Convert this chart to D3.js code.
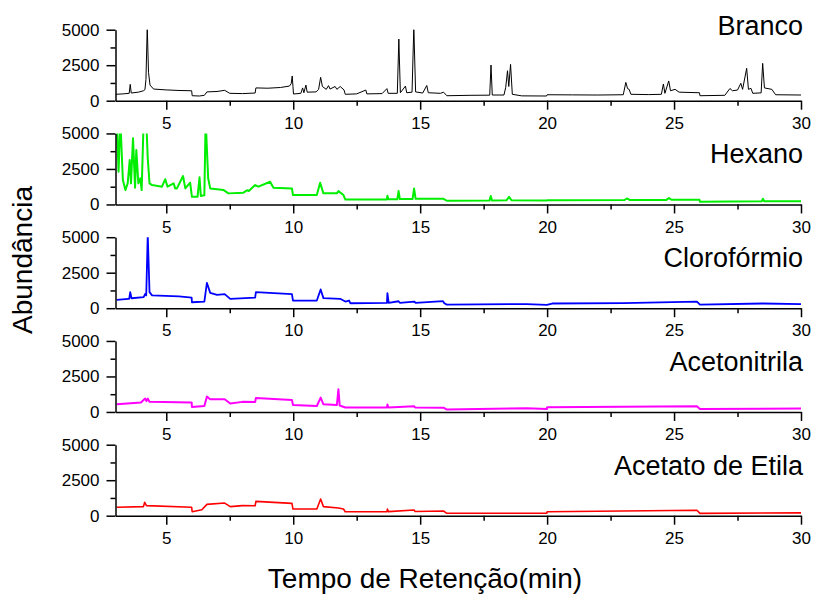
<!DOCTYPE html>
<html>
<head>
<meta charset="utf-8">
<script src="https://cdn.jsdelivr.net/npm/d3@7"></script>
<style>
  body { margin: 0; background: #fff; }
  svg { display: block; }
  text { font-family: "Liberation Sans", Arial, sans-serif; fill: #000; }
</style>
</head>
<body>
<svg width="814" height="594"></svg>
<script>
// series names, top to bottom
const names = ["Branco", "Hexano", "Clorofórmio", "Acetonitrila", "Acetato de Etila"];

// [tempo (min), abundância]
const branco = [[3.0,450],[3.3,480],[3.54,520],[3.58,1150],[3.62,540],[3.9,600],[4.1,700],[4.16,780],[4.2,1500],[4.25,5200],
  [4.3,2000],[4.36,1100],[4.5,820],[5.0,760],[5.5,720],[6.0,700],[6.02,350],[6.3,330],[6.5,380],[6.6,620],[7.0,650],[7.3,730],
  [7.5,520],[8.0,500],[8.5,540],[8.53,900],[9.0,880],[9.5,930],[9.85,1030],[9.92,1200],[9.96,1740],[9.99,1000],[10.01,470],
  [10.3,520],[10.37,900],[10.42,560],[10.5,1100],[10.55,600],[10.9,620],[11.0,800],[11.08,1645],[11.15,1000],[11.3,800],
  [11.39,1060],[11.45,820],[11.65,1000],[11.72,800],[11.85,1000],[12.0,760],[12.05,450],[12.5,480],[12.86,750],[12.9,480],
  [13.5,500],[13.69,850],[13.74,520],[14.1,520],[14.16,4340],[14.22,560],[14.42,1030],[14.47,560],[14.68,600],[14.75,5200],
  [14.82,620],[15.1,540],[15.26,1070],[15.32,560],[15.8,520],[15.92,600],[16.05,350],[17.0,380],[17.74,390],[17.79,2510],
  [17.84,400],[18.3,400],[18.37,940],[18.44,2110],[18.49,1000],[18.56,2560],[18.63,450],[19.0,340],[19.98,330],[20.0,420],
  [21.0,410],[22.0,400],[23.0,420],[23.1,1290],[23.17,850],[23.23,800],[23.3,450],[24.0,430],[24.5,450],[24.58,1175],
  [24.64,520],[24.79,1390],[24.86,700],[25.04,800],[25.2,600],[26.0,560],[26.02,350],[27.0,380],[27.2,860],[27.3,700],
  [27.5,750],[27.63,1225],[27.7,800],[27.86,2280],[27.93,800],[28.03,870],[28.1,520],[28.43,550],[28.49,2630],[28.56,900],
  [28.85,800],[29.0,420],[30.0,400]];

const hexano = [[3.05,6000],[3.12,2310],[3.19,6000],[3.29,1720],[3.39,1010],[3.48,1485],[3.56,3130],[3.61,1485],[3.69,4670],
  [3.77,1180],[3.82,3840],[3.9,1485],[3.98,1840],[4.03,1010],[4.11,6000],[4.21,6000],[4.27,3250],[4.34,1485],[4.44,1365],
  [4.83,1250],[4.96,1780],[5.05,1250],[5.29,1485],[5.35,1130],[5.42,1130],[5.66,2000],[5.75,1130],[5.94,1530],[6.01,540],
  [6.23,540],[6.31,1910],[6.36,600],[6.5,650],[6.55,6000],[6.65,1840],[6.73,1130],[7.26,1010],[7.45,780],[8.04,830],
  [8.18,1000],[8.25,950],[8.5,1365],[8.63,1250],[9.09,1600],[9.22,1180],[9.95,1130],[9.99,660],[10.93,660],[11.06,1530],
  [11.19,780],[11.72,780],[11.78,940],[11.98,660],[12.05,350],[13.69,350],[13.71,620],[13.75,360],[14.1,360],[14.15,940],
  [14.2,380],[14.7,380],[14.76,1130],[14.82,400],[15.92,400],[16.05,260],[17.73,270],[17.78,590],[17.83,280],[18.4,290],
  [18.5,530],[18.6,290],[19.98,270],[20.0,300],[23.05,310],[23.14,420],[23.25,320],[24.7,320],[24.8,450],[24.9,330],
  [26.0,330],[26.02,190],[28.45,220],[28.5,400],[28.55,230],[30.0,230]];

const cloroformio = [[3.05,590],[3.5,660],[3.54,660],[3.58,1130],[3.63,700],[4.11,780],[4.17,1010],[4.21,900],[4.27,5200],
  [4.34,1130],[4.44,900],[5.5,830],[6.0,740],[6.01,420],[6.5,470],[6.6,1790],[6.73,1080],[7.0,940],[7.3,990],[7.52,660],
  [8.5,740],[8.53,1130],[9.95,990],[9.99,540],[10.93,540],[11.08,1320],[11.19,710],[11.85,660],[12.05,470],[12.2,540],
  [12.25,350],[13.69,370],[13.71,1060],[13.76,380],[14.15,490],[14.2,380],[14.76,470],[14.82,380],[15.9,500],[15.95,350],
  [16.05,250],[19.2,290],[19.99,240],[20.2,330],[23.0,360],[25.9,470],[26.02,250],[28.5,330],[30.0,280]];

const acetonitrila = [[3.05,540],[4.0,660],[4.17,940],[4.22,760],[4.27,940],[4.34,710],[6.0,660],[6.01,350],[6.5,420],
  [6.6,1080],[6.73,900],[7.3,900],[7.52,590],[8.0,710],[8.5,700],[8.53,990],[9.95,850],[9.99,490],[10.93,420],[11.08,1010],
  [11.19,540],[11.72,490],[11.78,1600],[11.83,450],[12.05,310],[13.69,310],[13.71,520],[13.75,320],[14.76,400],[14.8,320],
  [15.92,300],[16.05,170],[19.2,260],[19.99,200],[20.0,330],[25.9,400],[26.02,210],[30.0,240]];

const acetato = [[3.05,590],[4.1,640],[4.15,940],[4.22,710],[6.0,590],[6.02,280],[6.4,420],[6.6,800],[7.3,890],[7.52,640],
  [8.0,710],[8.5,700],[8.53,1010],[9.95,870],[9.99,470],[10.93,470],[11.08,1170],[11.19,640],[11.78,540],[11.98,470],
  [12.05,280],[13.69,280],[13.71,470],[13.75,290],[14.76,400],[14.8,300],[15.92,330],[16.05,170],[19.99,180],[20.0,280],
  [25.9,380],[26.02,165],[30.0,200]];

const series = [branco, hexano, cloroformio, acetonitrila, acetato];

const xDomain = [3, 30];
const xMajor = [5, 10, 15, 20, 25, 30];
const xMinor = [7.5, 12.5, 17.5, 22.5, 27.5];
const yDomain = [0, 5000];
const yMajor = [0, 2500, 5000];
const yMinor = [1250, 3750];

const colors = ["#000000", "#00ee00", "#0000ff", "#ff00ff", "#ff0000"];
const widths = [1, 2, 1.8, 2, 1.6];

const left = 115.5, right = 801, top0 = 29.7, step = 103.75, panelH = 71;

const svg = d3.select("svg");
const x = d3.scaleLinear().domain(xDomain).range([left, right]);

series.forEach(function(data, i) {
  const top = top0 + i * step;
  const y = d3.scaleLinear().domain(yDomain).range([top + panelH, top]);
  const g = svg.append("g").attr("class", "panel");

  g.append("clipPath").attr("id", "clip" + i)
    .append("rect").attr("x", left).attr("y", top).attr("width", right - left).attr("height", panelH);

  const line = d3.line().x(d => x(d[0])).y(d => y(d[1]));
  g.append("path").datum(data)
    .attr("clip-path", `url(#clip${i})`)
    .attr("fill", "none")
    .attr("stroke", colors[i])
    .attr("stroke-width", widths[i])
    .attr("stroke-linejoin", "round")
    .attr("d", line);

  // minor ticks
  g.append("g").attr("transform", `translate(${[0, top + panelH]})`)
    .call(d3.axisBottom(x).tickValues(xMinor).tickSize(5).tickFormat(""))
    .call(a => a.select(".domain").remove());
  g.append("g").attr("transform", `translate(${[left, 0]})`)
    .call(d3.axisLeft(y).tickValues(yMinor).tickSize(5).tickFormat(""))
    .call(a => a.select(".domain").remove());

  const xa = g.append("g").attr("class", "x-axis")
    .attr("transform", `translate(${[0, top + panelH]})`)
    .call(d3.axisBottom(x).tickValues(xMajor).tickSize(9).tickSizeOuter(0).tickPadding(7).tickFormat(d3.format("d")));
  const ya = g.append("g").attr("class", "y-axis")
    .attr("transform", `translate(${[left, 0]})`)
    .call(d3.axisLeft(y).tickValues(yMajor).tickSize(9).tickSizeOuter(0).tickPadding(7).tickFormat(d3.format("d")));

  [xa, ya].forEach(a => {
    a.attr("font-family", null).attr("font-size", 17);
    a.selectAll("line, path").attr("stroke", "#000").attr("stroke-width", 1.5);
  });
  g.selectAll("line").attr("stroke-width", 1.5);

  g.append("text")
    .attr("x", 803)
    .attr("y", top + (i === 0 ? 5 : 30))
    .attr("text-anchor", "end")
    .attr("font-size", 27)
    .text(names[i]);
});

svg.append("text")
  .attr("transform", "translate(31.5,260) rotate(-90)")
  .attr("text-anchor", "middle")
  .attr("font-size", 28)
  .text("Abundância");

svg.append("text")
  .attr("x", 425).attr("y", 588)
  .attr("text-anchor", "middle")
  .attr("font-size", 28)
  .text("Tempo de Retenção(min)");
</script>
</body>
</html>
